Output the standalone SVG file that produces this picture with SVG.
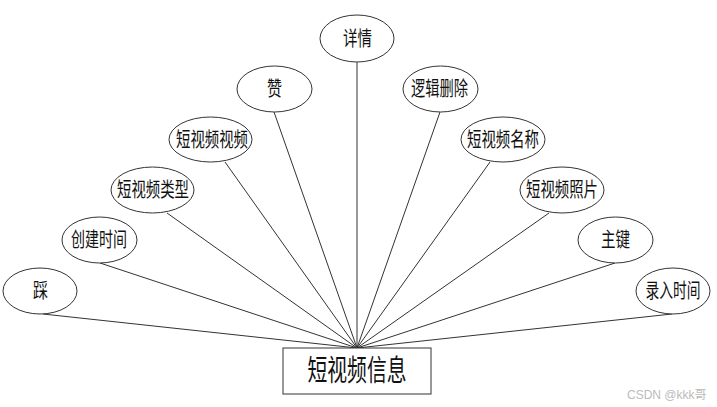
<svg xmlns="http://www.w3.org/2000/svg" width="717" height="407" viewBox="0 0 717 407">
<style>
.e{fill:#fff;stroke:#333;stroke-width:1}
.t{font-family:"Noto Sans CJK SC","Liberation Sans",sans-serif;font-size:20px;fill:#111;text-anchor:middle}
.c line{stroke:#333;stroke-width:1}
.w{font-family:"Liberation Sans","Noto Sans CJK SC",sans-serif;font-size:12px;fill:#bbb}
</style>
<rect width="717" height="407" fill="#fff"/>
<g class="c" id="connectors">
<line x1="43" y1="314" x2="357" y2="348"/>
<line x1="100" y1="263" x2="357" y2="348"/>
<line x1="167" y1="213" x2="357" y2="348"/>
<line x1="225" y1="162" x2="357" y2="348"/>
<line x1="274" y1="112" x2="357" y2="348"/>
<line x1="357" y1="62" x2="357" y2="348"/>
<line x1="440" y1="112" x2="357" y2="348"/>
<line x1="490" y1="162" x2="357" y2="348"/>
<line x1="549" y1="213" x2="357" y2="348"/>
<line x1="615" y1="263" x2="357" y2="348"/>
<line x1="672" y1="314" x2="357" y2="348"/>
</g>
<g id="entity"><rect x="283" y="348" width="148" height="46" fill="#fff" stroke="#333"/><text class="t" x="357" y="381" style="font-size:29px" textLength="99" lengthAdjust="spacingAndGlyphs">短视频信息</text></g>
<g id="n-xiangqing"><ellipse class="e" cx="357" cy="38.5" rx="37" ry="23.5"/><text class="t" x="357.5" y="46" textLength="29" lengthAdjust="spacingAndGlyphs">详情</text></g>
<g id="n-zan"><ellipse class="e" cx="274.5" cy="89" rx="37.5" ry="23"/><text class="t" x="274.5" y="96" textLength="15" lengthAdjust="spacingAndGlyphs">赞</text></g>
<g id="n-video"><ellipse class="e" cx="210.5" cy="139.5" rx="41.5" ry="22.5"/><text class="t" x="212" y="147" textLength="72" lengthAdjust="spacingAndGlyphs">短视频视频</text></g>
<g id="n-type"><ellipse class="e" cx="152.5" cy="190" rx="41.5" ry="23"/><text class="t" x="153" y="197" textLength="72" lengthAdjust="spacingAndGlyphs">短视频类型</text></g>
<g id="n-ctime"><ellipse class="e" cx="99.5" cy="240" rx="37.5" ry="23"/><text class="t" x="99" y="247" textLength="56" lengthAdjust="spacingAndGlyphs">创建时间</text></g>
<g id="n-cai"><ellipse class="e" cx="40" cy="291" rx="37" ry="23"/><text class="t" x="40.5" y="298" textLength="15" lengthAdjust="spacingAndGlyphs">踩</text></g>
<g id="n-del"><ellipse class="e" cx="440.5" cy="89" rx="37.5" ry="23"/><text class="t" x="439.5" y="96" textLength="57" lengthAdjust="spacingAndGlyphs">逻辑删除</text></g>
<g id="n-name"><ellipse class="e" cx="503" cy="139.5" rx="42" ry="22.5"/><text class="t" x="503" y="147" textLength="72" lengthAdjust="spacingAndGlyphs">短视频名称</text></g>
<g id="n-photo"><ellipse class="e" cx="562" cy="190" rx="42" ry="23"/><text class="t" x="562" y="197" textLength="72" lengthAdjust="spacingAndGlyphs">短视频照片</text></g>
<g id="n-key"><ellipse class="e" cx="615.5" cy="240" rx="37.5" ry="23"/><text class="t" x="615.5" y="247" textLength="29" lengthAdjust="spacingAndGlyphs">主键</text></g>
<g id="n-rtime"><ellipse class="e" cx="673" cy="291" rx="37" ry="23"/><text class="t" x="673" y="298" textLength="55" lengthAdjust="spacingAndGlyphs">录入时间</text></g>
<text class="w" x="627" y="399">CSDN @kkk哥</text>
</svg>
